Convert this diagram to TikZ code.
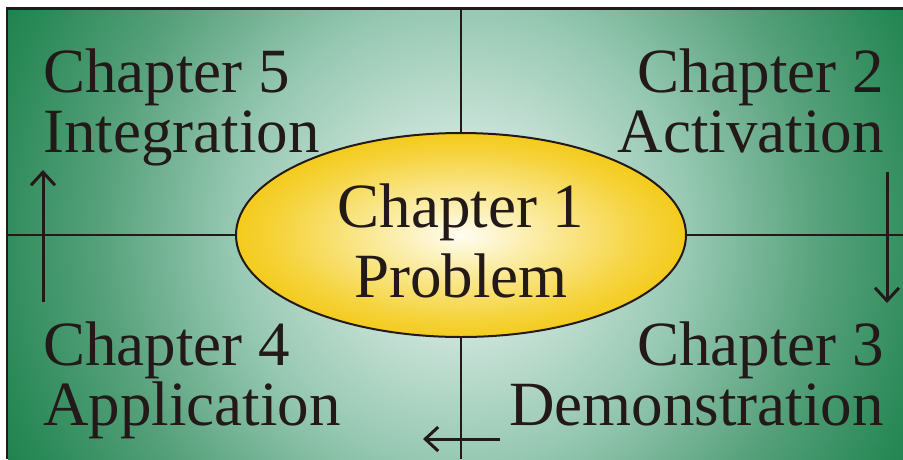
\documentclass[tikz,border=0pt]{standalone}
\usepackage{fontspec}
\setmainfont{Liberation Serif}
\usetikzlibrary{shapes.geometric,arrows.meta,positioning}

\definecolor{inkline}{RGB}{35,25,25}
\definecolor{bgA}{RGB}{240,247,243}
\definecolor{bgB}{RGB}{200,226,215}
\definecolor{bgC}{RGB}{150,200,178}
\definecolor{bgD}{RGB}{85,160,122}
\definecolor{bgE}{RGB}{40,136,86}
\definecolor{bgF}{RGB}{20,116,66}
\definecolor{eggA}{RGB}{255,253,242}
\definecolor{eggB}{RGB}{250,233,150}
\definecolor{eggC}{RGB}{245,210,55}
\definecolor{eggD}{RGB}{243,198,10}

\pgfdeclareradialshading{bgglow}{\pgfpointorigin}{color(0bp)=(bgA); color(5bp)=(bgB); color(11bp)=(bgC); color(17.5bp)=(bgD); color(23bp)=(bgE); color(27bp)=(bgF); color(50bp)=(bgF)}
\pgfdeclareradialshading{eggglow}{\pgfpointorigin}{color(0bp)=(eggA); color(10bp)=(eggB); color(21bp)=(eggC); color(28bp)=(eggD); color(50bp)=(eggD)}

\begin{document}
\begin{tikzpicture}[x=1pt,y=-1pt,
    chap/.style={inner sep=0pt,font=\fontsize{63}{60}\selectfont,text=inkline},
    rule/.style={draw=inkline,line width=2pt},
    turn/.style={draw=inkline,line width=3pt,-{Straight Barb[length=13pt,width=24pt]}}]
    \useasboundingbox (0,0) rectangle (903,459);
    % Background glow
    \begin{scope}
        \clip (8,9) rectangle (903,459);
        \shade[shading=bgglow] (461,235) circle (520pt);
    \end{scope}
    \draw[inkline,line width=2.5pt] (7,459) -- (7,8.5) -- (903,8.5);
    % Cross lines
    \coordinate (top) at (461,9);
    \coordinate (bottom) at (461,459);
    \coordinate (left) at (8,235);
    \coordinate (right) at (903,235);
    \draw[rule] (top) -- (bottom);
    \draw[rule] (left) -- (right);
    % Centre ellipse
    \node[ellipse,draw=inkline,line width=2pt,shade,shading=eggglow,
        minimum width=450pt,minimum height=204pt,inner sep=0pt,align=center,
        font=\fontsize{63}{70}\selectfont,text=inkline] (prob) at (461,235)
        {\rule{0pt}{55pt}Chapter 1\\Problem};
    % Quadrant labels
    \node[chap,anchor=north west,align=left] (integ) at (43,49) {Chapter 5\\Integration};
    \node[chap,anchor=north east,align=right] (activ) at (884,49) {Chapter 2\\Activation};
    \node[chap,anchor=north west,align=left] (appl) at (43,322) {Chapter 4\\Application};
    \node[chap,anchor=north east,align=right] (demo) at (884,322) {Chapter 3\\Demonstration};
    % Cycle arrows
    \coordinate (downfrom) at (887,172);
    \coordinate (downto) at (887,303);
    \coordinate (leftfrom) at (500,439);
    \coordinate (leftto) at (423,439);
    \coordinate (upfrom) at (43,302);
    \coordinate (upto) at (43,170);
    \draw[turn] (downfrom) -- (downto);
    \draw[turn] (leftfrom) -- (leftto);
    \draw[turn] (upfrom) -- (upto);
\end{tikzpicture}
\end{document}
